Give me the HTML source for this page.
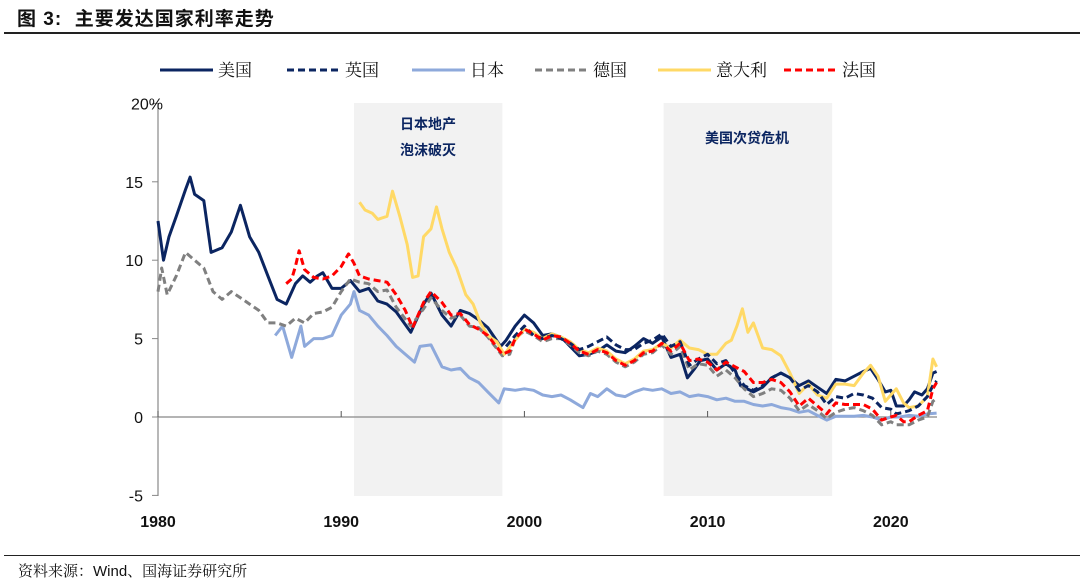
<!DOCTYPE html>
<html><head><meta charset="utf-8">
<style>
body{margin:0;background:#fff;width:1080px;height:584px;overflow:hidden;position:relative;font-family:"Liberation Sans","Noto Sans CJK SC",sans-serif;}
#title{position:absolute;left:17px;top:4px;font-size:19px;font-weight:bold;color:#111;letter-spacing:1px;}
#rule1{position:absolute;left:4px;top:32px;width:1076px;height:2px;background:#222;}
#rule2{position:absolute;left:4px;top:555px;width:1076px;height:1px;background:#222;}
#source{position:absolute;left:18px;top:560px;font-size:15px;color:#111;font-family:"Liberation Sans","Noto Serif CJK SC",serif;}
svg{position:absolute;left:0;top:0;}
</style></head><body>
<div id="title">图 3:&nbsp; 主要发达国家利率走势</div>
<div id="rule1"></div>
<svg id="chart" width="1080" height="584"></svg>
<div id="rule2"></div>
<div id="source">资料来源：Wind、国海证券研究所</div>
<script>
const usX=[1980.0,1980.3,1980.6,1981.0,1981.5,1981.75,1982.0,1982.5,1982.9,1983.5,1984.0,1984.5,1985.0,1985.5,1986.0,1986.5,1987.0,1987.5,1987.9,1988.3,1988.7,1989.0,1989.5,1990.0,1990.5,1991.0,1991.5,1992.0,1992.5,1993.0,1993.8,1994.5,1994.9,1995.5,1996.0,1996.5,1997.0,1997.5,1998.0,1998.7,1999.0,1999.5,2000.0,2000.5,2001.0,2001.5,2002.0,2002.5,2003.0,2003.5,2004.0,2004.5,2005.0,2005.5,2006.0,2006.5,2007.0,2007.5,2008.0,2008.5,2008.9,2009.3,2009.6,2010.0,2010.5,2011.0,2011.5,2011.8,2012.5,2013.0,2013.5,2014.0,2014.5,2015.0,2015.5,2016.0,2016.5,2017.0,2017.5,2018.0,2018.5,2018.9,2019.3,2019.7,2020.0,2020.3,2020.7,2021.0,2021.3,2021.7,2022.0,2022.3,2022.5];
const usY=[12.5,10.0,11.5,12.8,14.5,15.3,14.2,13.8,10.5,10.8,11.8,13.5,11.5,10.5,9.0,7.5,7.2,8.5,9.0,8.6,9.0,9.2,8.2,8.2,8.7,8.0,8.2,7.4,7.2,6.7,5.4,7.2,7.9,6.5,5.8,6.8,6.6,6.2,5.7,4.5,4.9,5.8,6.5,6.0,5.2,5.3,5.1,4.5,3.9,4.0,4.2,4.6,4.2,4.1,4.5,5.0,4.7,5.1,3.8,4.0,2.5,3.1,3.6,3.7,3.0,3.4,3.0,2.0,1.6,1.9,2.5,2.8,2.5,2.0,2.3,1.9,1.5,2.4,2.3,2.6,2.9,3.1,2.4,1.6,1.7,0.7,0.7,1.1,1.6,1.4,1.8,2.8,2.9];
const ukX=[1999.0,1999.5,2000,2000.5,2001,2001.5,2002,2002.5,2003,2003.5,2004,2004.5,2005,2005.5,2006,2006.5,2007,2007.5,2008,2008.5,2009,2009.5,2010,2010.5,2011,2011.5,2012,2012.5,2013,2013.5,2014,2014.5,2015,2015.5,2016,2016.5,2017,2017.5,2018,2018.5,2019,2019.5,2020,2020.3,2020.7,2021,2021.5,2022,2022.3,2022.5];
const ukY=[4.5,5.2,5.8,5.2,5.0,5.2,5.0,4.7,4.3,4.5,4.8,5.1,4.6,4.3,4.3,4.7,4.9,5.3,4.5,4.8,3.3,3.7,4.0,3.4,3.6,2.8,2.0,1.7,2.0,2.5,2.8,2.5,1.7,2.0,1.6,0.8,1.3,1.2,1.5,1.4,1.2,0.6,0.5,0.2,0.3,0.4,0.7,1.3,2.0,2.3];
const jpX=[1986.4,1986.8,1987.3,1987.8,1988.0,1988.5,1989.0,1989.5,1990.0,1990.5,1990.7,1991.0,1991.5,1992.0,1992.5,1993.0,1993.5,1994.0,1994.3,1994.9,1995.5,1996.0,1996.5,1997.0,1997.5,1998.0,1998.6,1998.9,1999.5,2000.0,2000.5,2001.0,2001.5,2002.0,2002.5,2003.2,2003.6,2004.0,2004.5,2005.0,2005.5,2006.0,2006.5,2007.0,2007.5,2008.0,2008.5,2009.0,2009.5,2010.0,2010.5,2011.0,2011.5,2012.0,2012.5,2013.0,2013.5,2014.0,2014.5,2015.0,2015.5,2016.0,2016.5,2017.0,2017.5,2018.0,2018.5,2019.0,2019.5,2020.0,2020.5,2021.0,2021.5,2022.0,2022.5];
const jpY=[5.2,5.8,3.8,5.8,4.5,5.0,5.0,5.2,6.5,7.2,8.0,6.8,6.5,5.8,5.2,4.5,4.0,3.5,4.5,4.6,3.2,3.0,3.1,2.5,2.2,1.6,0.9,1.8,1.7,1.8,1.7,1.4,1.3,1.4,1.1,0.6,1.5,1.3,1.8,1.4,1.3,1.6,1.8,1.7,1.8,1.5,1.6,1.3,1.4,1.3,1.1,1.2,1.0,1.0,0.8,0.7,0.8,0.6,0.5,0.3,0.4,0.1,-0.2,0.05,0.05,0.05,0.1,0.0,-0.2,0.0,0.0,0.1,0.05,0.2,0.25];
const deX=[1980.0,1980.2,1980.5,1981.0,1981.5,1982.0,1982.5,1983.0,1983.5,1984.0,1984.5,1985.0,1985.5,1986.0,1986.5,1987.0,1987.5,1988.0,1988.5,1989.0,1989.5,1990.0,1990.5,1991.0,1991.5,1992.0,1992.5,1993.0,1993.8,1994.5,1994.9,1995.5,1996.0,1996.5,1997.0,1997.5,1998.0,1998.8,1999.2,1999.5,2000,2000.5,2001,2001.5,2002,2002.5,2003,2003.5,2004,2004.5,2005,2005.5,2006,2006.5,2007,2007.5,2008,2008.5,2009,2009.5,2010,2010.5,2011,2011.5,2012,2012.5,2013,2013.5,2014,2014.5,2015,2015.5,2016,2016.5,2017,2017.5,2018,2018.5,2019,2019.5,2020,2020.3,2020.7,2021,2021.5,2022,2022.3,2022.5];
const deY=[8.0,9.5,7.8,9.0,10.5,10.0,9.5,8.0,7.5,8.0,7.6,7.2,6.8,6.0,6.0,5.8,6.3,6.0,6.6,6.7,7.0,8.0,8.8,8.6,8.5,8.0,8.1,7.0,5.8,6.9,7.6,6.8,6.3,6.5,5.8,5.7,5.1,3.9,4.0,5.0,5.5,5.2,4.8,5.0,5.0,4.6,4.1,3.9,4.2,4.0,3.5,3.2,3.5,4.0,4.1,4.6,4.0,4.5,3.0,3.4,3.3,2.6,3.0,2.5,1.8,1.3,1.5,1.8,1.7,1.2,0.4,0.8,0.4,-0.1,0.3,0.5,0.6,0.4,0.1,-0.5,-0.3,-0.5,-0.5,-0.5,-0.2,0.0,1.0,1.2];
const itX=[1991.0,1991.3,1991.7,1992.0,1992.5,1992.8,1993.2,1993.6,1993.9,1994.2,1994.5,1994.9,1995.2,1995.5,1995.9,1996.3,1996.8,1997.2,1997.6,1998.0,1998.5,1998.9,1999.5,2000,2000.5,2001,2001.5,2002,2002.5,2003,2003.5,2004,2004.5,2005,2005.5,2006,2006.5,2007,2007.5,2008,2008.5,2009,2009.5,2010,2010.5,2011,2011.3,2011.6,2011.9,2012.2,2012.5,2013,2013.5,2014,2014.5,2015,2015.5,2016,2016.5,2017,2017.5,2018,2018.5,2018.9,2019.3,2019.7,2020.0,2020.3,2020.7,2021,2021.5,2022,2022.3,2022.5];
const itY=[13.7,13.2,13.0,12.6,12.8,14.4,12.8,11.0,8.9,9.0,11.5,12.0,13.4,12.0,10.5,9.5,7.8,7.2,6.0,5.2,4.8,4.0,4.9,5.6,5.4,5.0,5.3,5.1,4.8,4.3,4.1,4.4,4.2,3.7,3.4,3.7,4.2,4.3,4.7,4.4,4.9,4.4,4.3,4.0,4.0,4.7,4.9,5.8,6.9,5.4,6.0,4.4,4.3,3.9,2.8,1.5,2.1,1.4,1.2,2.1,2.1,2.0,2.8,3.3,2.6,1.0,1.4,1.8,0.9,0.6,0.7,1.3,3.7,3.2];
const frX=[1987.0,1987.3,1987.5,1987.7,1988.0,1988.5,1989.0,1989.5,1990.0,1990.4,1990.7,1991.0,1991.5,1992.0,1992.5,1993.0,1993.5,1993.9,1994.5,1994.9,1995.5,1996.0,1996.5,1997.0,1997.5,1998.0,1998.8,1999.2,1999.5,2000,2000.5,2001,2001.5,2002,2002.5,2003,2003.5,2004,2004.5,2005,2005.5,2006,2006.5,2007,2007.5,2008,2008.5,2009,2009.5,2010,2010.5,2011,2011.5,2012,2012.5,2013,2013.5,2014,2014.5,2015,2015.5,2016,2016.5,2017,2017.5,2018,2018.5,2019,2019.5,2020,2020.3,2020.7,2021,2021.5,2022,2022.3,2022.5];
const frY=[8.5,8.8,9.6,10.6,9.4,8.9,8.8,9.0,9.6,10.4,9.8,9.0,8.8,8.7,8.6,7.8,6.8,5.7,7.3,8.0,7.3,6.5,6.6,5.9,5.6,5.2,4.0,4.2,5.0,5.6,5.3,4.9,5.2,5.1,4.7,4.2,4.0,4.3,4.1,3.6,3.3,3.6,4.1,4.2,4.7,4.2,4.7,3.6,3.7,3.5,3.0,3.5,3.2,2.9,2.2,2.2,2.4,2.2,1.6,0.7,1.2,0.7,0.2,0.9,0.8,0.8,0.8,0.5,-0.2,0.0,0.1,-0.3,-0.3,0.1,0.4,1.8,2.2];
const xTicks=[1980,1990,2000,2010,2020];
const yTicks=[-5,0,5,10,15,20];
const yTickLabels=["-5","0","5","10","15","20%"];
const shadeStarts=[1990.7,2007.6];
const shadeEnds=[1998.8,2016.8];

const NS="http://www.w3.org/2000/svg";
const svg=document.getElementById('chart');
const X=y=>158+(y-1980)*18.32;
const Y=v=>417-v*15.68;
function mk(tag,attrs,parent){const e=document.createElementNS(NS,tag);for(const k in attrs)e.setAttribute(k,attrs[k]);(parent||svg).appendChild(e);return e;}

for(let i=0;i<shadeStarts.length;i++){
  const r=mk('rect',{x:X(shadeStarts[i]),y:103,width:X(shadeEnds[i])-X(shadeStarts[i]),height:393,fill:'#F2F2F2'});
  
  
}
const annFont='font-family:"Liberation Sans","Noto Sans CJK SC",sans-serif;font-weight:bold;font-size:14px;fill:#0B2561';
[["日本地产",428,129],["泡沫破灭",428,155],["美国次贷危机",747,143]].forEach((a,i)=>{
  const t=mk('text',{x:a[1],y:a[2],'text-anchor':'middle',style:annFont});t.textContent=a[0];
  
  
});
const ya=mk('line',{x1:158,y1:103,x2:158,y2:496,stroke:'#888','stroke-width':1.2});


const xa=mk('line',{x1:158,y1:Y(0),x2:937,y2:Y(0),stroke:'#888','stroke-width':1.2});


const tf='font-family:"Liberation Sans",sans-serif;font-size:16px;fill:#111';
yTicks.forEach((v,i)=>{
  mk('line',{x1:152,y1:Y(v),x2:158,y2:Y(v),stroke:'#888'});
  const t=mk('text',{x:i==5?163:143,y:Y(v)+6,'text-anchor':'end',style:tf});t.textContent=yTickLabels[i];
  
  
});
xTicks.forEach(v=>{
  mk('line',{x1:X(v),y1:Y(0),x2:X(v),y2:Y(0)-6,stroke:'#555'});
  const t=mk('text',{x:X(v),y:527,'text-anchor':'middle',style:tf+';font-weight:bold'});t.textContent=v;
  
  
});
const series=[
  {n:'series-us',xs:usX,ys:usY,c:'#0B2561',d:''},
  {n:'series-japan',xs:jpX,ys:jpY,c:'#8EA9DB',d:''},
  {n:'series-germany',xs:deX,ys:deY,c:'#808080',d:'7,4'},
  {n:'series-italy',xs:itX,ys:itY,c:'#FFD966',d:''},
  {n:'series-uk',xs:ukX,ys:ukY,c:'#0B2561',d:'7,4'},
  {n:'series-france',xs:frX,ys:frY,c:'#FF0000',d:'7,4'}
];
series.forEach(s=>{
  const pts=s.xs.map((x,i)=>X(x).toFixed(1)+','+Y(s.ys[i]).toFixed(1)).join(' ');
  const p=mk('polyline',{points:pts,fill:'none',stroke:s.c,'stroke-width':3,'stroke-linejoin':'round'});
  if(s.d)p.setAttribute('stroke-dasharray',s.d);
  
  
});
const lf='font-family:"Liberation Serif","Noto Serif CJK SC",serif;font-size:17px;fill:#111';
const leg=[["美国",160,'#0B2561',''],["英国",287,'#0B2561','7,4'],["日本",412,'#8EA9DB',''],["德国",535,'#808080','7,4'],["意大利",658,'#FFD966',''],["法国",784,'#FF0000','7,4']];
leg.forEach(l=>{
  const g=mk('g',{});
  
  
  const ln=mk('line',{x1:l[1],y1:70,x2:l[1]+53,y2:70,stroke:l[2],'stroke-width':3},g);
  if(l[3])ln.setAttribute('stroke-dasharray',l[3]);
  const t=mk('text',{x:l[1]+58,y:76,style:lf},g);t.textContent=l[0];
});
</script>
</body></html>
